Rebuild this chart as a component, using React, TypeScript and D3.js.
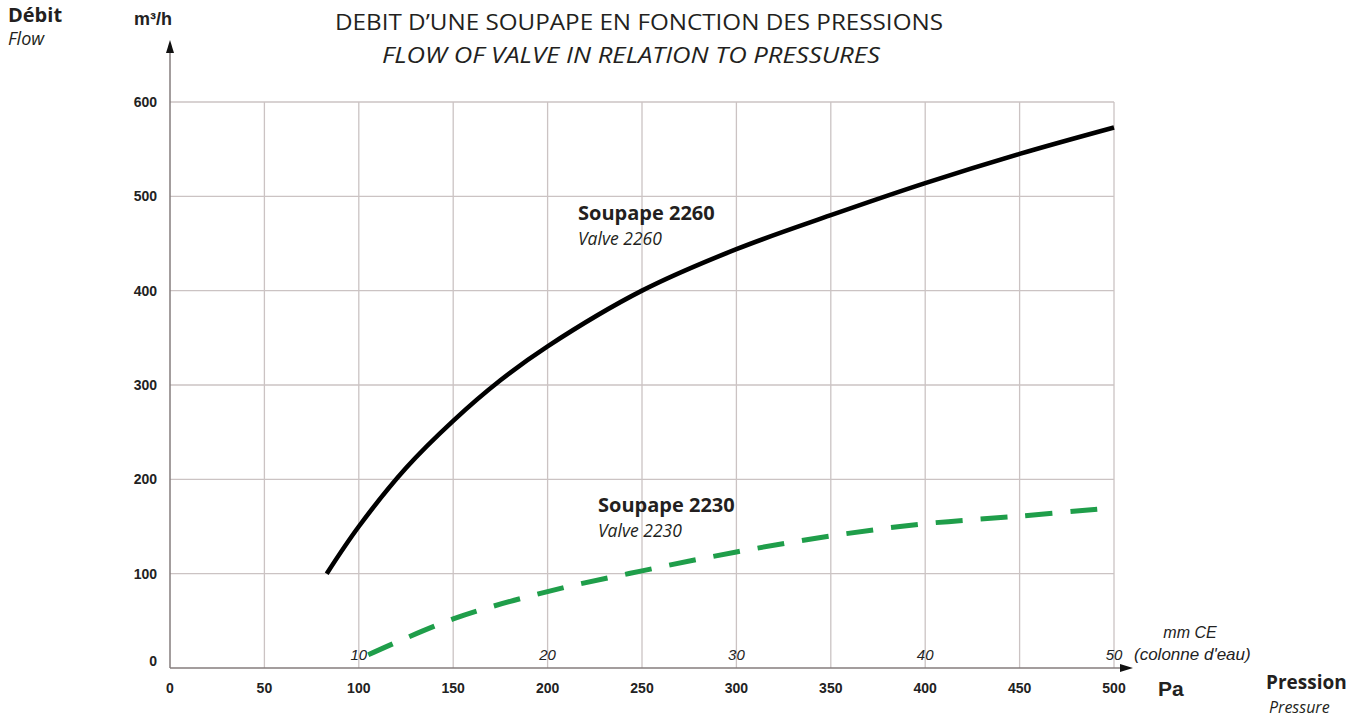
import React from 'react'
import * as d3 from 'd3'

// pressure (Pa) / flow (m3/h)
const valve2260 = [
  [83, 100], [100, 150], [125, 212], [150, 262], [175, 305], [200, 341],
  [250, 400], [300, 444], [350, 480], [400, 514], [450, 545], [500, 573],
]
const valve2230 = [
  [105, 14], [150, 52], [200, 81], [250, 103], [300, 123],
  [350, 140], [400, 153], [450, 161], [500, 170],
]
const xTicks = [0, 50, 100, 150, 200, 250, 300, 350, 400, 450, 500]
const yTicks = [0, 100, 200, 300, 400, 500, 600]
const mmTicks = [10, 20, 30, 40, 50] // mm CE, 1 mm = 10 Pa

const sans = "'Open Sans', 'Noto Sans', sans-serif"
const arial = "'Liberation Sans', Arial, sans-serif"

export default function App() {
  const width = 1355,
    height = 717

  const x = d3.scaleLinear().domain([0, 500]).range([170, 1114])
  const y = d3.scaleLinear().domain([0, 600]).range([668, 102])

  const line = d3
    .line<number[]>()
    .x(d => x(d[0]))
    .y(d => y(d[1]))
    .curve(d3.curveCatmullRom.alpha(0.5))

  const gridColor = '#cbc3c3'
  const axisColor = '#857c7c'

  return (
    <svg
      width={width}
      height={height}
      style={{ position: 'absolute', left: 0, top: 0, background: '#fff' }}
    >
      {/* grid */}
      <g>
        {xTicks.slice(1).map(t => (
          <line key={t} x1={x(t)} x2={x(t)} y1={y(600)} y2={y(0)} stroke={gridColor} strokeWidth={1.3} />
        ))}
        {yTicks.slice(1).map(t => (
          <line key={t} x1={x(0)} x2={x(500)} y1={y(t)} y2={y(t)} stroke={gridColor} strokeWidth={1.3} />
        ))}
      </g>

      {/* axes with arrows */}
      <line x1={x(0)} x2={x(0)} y1={y(0)} y2={50} stroke={axisColor} strokeWidth={1.5} />
      <path d={`M${x(0)},40 L${x(0) - 4},53 L${x(0) + 4},53 Z`} fill="#111" />
      <line x1={x(0)} x2={1124} y1={y(0)} y2={y(0)} stroke={axisColor} strokeWidth={1.5} />
      <path d={`M1133,${y(0)} L1120,${y(0) - 4} L1120,${y(0) + 4} Z`} fill="#111" />

      {/* tick labels */}
      <g fontFamily={arial} fontWeight="bold" fontSize={14} fill="#222">
        {yTicks.map(t => (
          <text key={t} x={157} y={y(t) + (t === 0 ? -2 : 5)} textAnchor="end">
            {t}
          </text>
        ))}
        {xTicks.map(t => (
          <text key={t} x={x(t)} y={693} textAnchor="middle">
            {t}
          </text>
        ))}
      </g>
      <g fontFamily={arial} fontStyle="italic" fontSize={15} fill="#222">
        {mmTicks.map(t => (
          <text key={t} x={x(t * 10)} y={660} textAnchor="middle">
            {t}
          </text>
        ))}
        <text x={1190} y={638} textAnchor="middle" fontSize={16}>mm CE</text>
        <text x={1134} y={660} fontSize={17}>(colonne d'eau)</text>
      </g>

      {/* curves */}
      <path d={line(valve2260) || ''} fill="none" stroke="#000" strokeWidth={4.6} />
      <path
        d={line(valve2230) || ''}
        fill="none"
        stroke="#1f9e4a"
        strokeWidth={5}
        strokeDasharray="27 18"
      />

      {/* curve labels */}
      <g fontFamily={sans} fill="#231f20">
        <text x={578} y={220} fontWeight="bold" fontSize={20}>Soupape 2260</text>
        <text x={578} y={245} fontStyle="italic" fontSize={17.5}>Valve 2260</text>
        <text x={598} y={512} fontWeight="bold" fontSize={20}>Soupape 2230</text>
        <text x={598} y={537} fontStyle="italic" fontSize={17.5}>Valve 2230</text>
      </g>

      {/* axis titles */}
      <g fontFamily={sans} fill="#231f20">
        <text x={8} y={22} fontWeight="bold" fontSize={20}>Débit</text>
        <text x={8} y={45} fontStyle="italic" fontSize={18}>Flow</text>
        <text x={1266} y={689} fontWeight="bold" fontSize={19}>Pression</text>
        <text x={1269} y={713} fontStyle="italic" fontSize={16}>Pressure</text>
      </g>
      <text x={134} y={25} fontFamily={arial} fontWeight="bold" fontSize={18} fill="#222">
        m³/h
      </text>
      <text x={1158} y={696} fontFamily={arial} fontWeight="bold" fontSize={21} fill="#222">
        Pa
      </text>

      {/* title */}
      <g fontFamily={sans} fill="#231f20" textAnchor="middle">
        <text x={639} y={30} fontSize={22} textLength={608} lengthAdjust="spacingAndGlyphs">
          DEBIT D’UNE SOUPAPE EN FONCTION DES PRESSIONS
        </text>
        <text x={631} y={63} fontSize={22} fontStyle="italic" textLength={498} lengthAdjust="spacingAndGlyphs">
          FLOW OF VALVE IN RELATION TO PRESSURES
        </text>
      </g>
    </svg>
  )
}
